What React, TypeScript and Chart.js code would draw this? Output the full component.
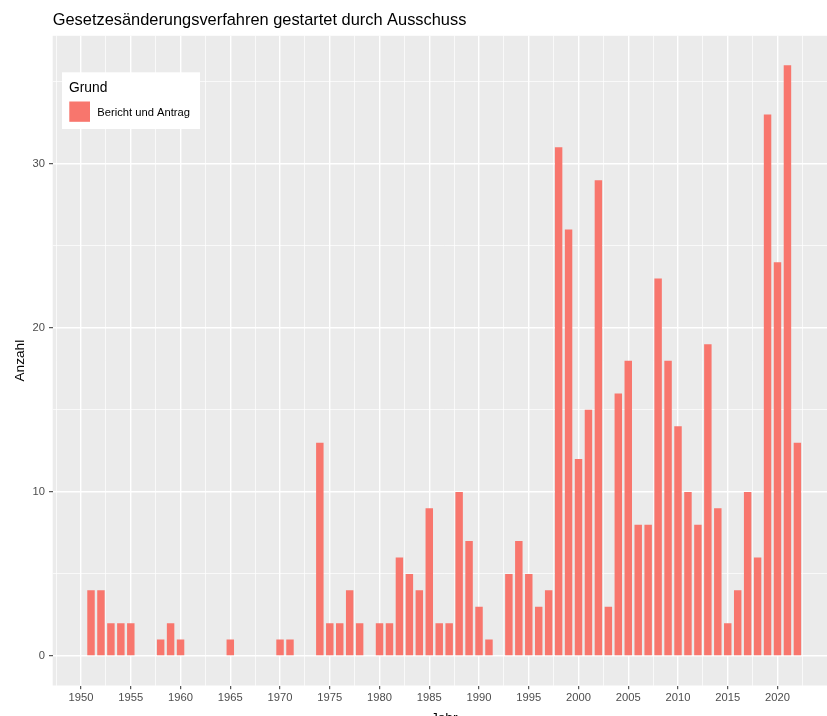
import React, { useEffect, useRef } from "react";
import { Chart, registerables } from "chart.js";

Chart.register(...registerables);

const FONT = '"Liberation Sans", Arial, Helvetica, sans-serif';

const chartTitle = "Gesetzesänderungsverfahren gestartet durch Ausschuss";
const xTitle = "Jahr";
const yTitle = "Anzahl";
const legendTitle = "Grund";
const seriesLabel = "Bericht und Antrag";

const years = [
  1951, 1952, 1953, 1954, 1955, 1958, 1959, 1960, 1965, 1970,
  1971, 1974, 1975, 1976, 1977, 1978, 1980, 1981, 1982, 1983,
  1984, 1985, 1986, 1987, 1988, 1989, 1990, 1991, 1993, 1994,
  1995, 1996, 1997, 1998, 1999, 2000, 2001, 2002, 2003, 2004,
  2005, 2006, 2007, 2008, 2009, 2010, 2011, 2012, 2013, 2014,
  2015, 2016, 2017, 2018, 2019, 2020, 2021, 2022,
];
const counts = [
  4, 4, 2, 2, 2, 1, 2, 1, 1, 1,
  1, 13, 2, 2, 4, 2, 2, 2, 6, 5,
  4, 9, 2, 2, 10, 7, 3, 1, 5, 7,
  5, 3, 4, 31, 26, 12, 15, 29, 3, 16,
  18, 8, 8, 23, 18, 14, 10, 8, 19, 9,
  2, 4, 10, 6, 33, 24, 36, 13,
];

const xGridValues = [
  1947.5, 1950, 1952.5, 1955, 1957.5, 1960, 1962.5, 1965, 1967.5, 1970,
  1972.5, 1975, 1977.5, 1980, 1982.5, 1985, 1987.5, 1990, 1992.5, 1995,
  1997.5, 2000, 2002.5, 2005, 2007.5, 2010, 2012.5, 2015, 2017.5, 2020,
  2022.5,
];
const yGridValues = [0, 5, 10, 15, 20, 25, 30, 35];

const BAR_COLOR = "#F8766D";

const isMajorX = (v: number) => Math.abs(v % 5) < 1e-6;
const isMajorY = (v: number) => Math.abs(v % 10) < 1e-6;

const decorPlugin = {
  id: "ggdecor",
  beforeDraw(chart: any) {
    const { ctx, chartArea } = chart;
    ctx.save();
    ctx.fillStyle = "#EBEBEB";
    ctx.fillRect(chartArea.left, chartArea.top, chartArea.right - chartArea.left, chartArea.bottom - chartArea.top);
    ctx.restore();
  },
  afterDraw(chart: any) {
    const { ctx, chartArea } = chart;
    ctx.save();
    // title
    ctx.fillStyle = "#000000";
    ctx.textAlign = "left";
    ctx.textBaseline = "alphabetic";
    ctx.font = `16.4px ${FONT}`;
    ctx.fillText(chartTitle, chartArea.left, 25);

    // x axis title
    ctx.font = `13.7px ${FONT}`;
    ctx.textAlign = "center";
    ctx.fillText(xTitle, (chartArea.left + chartArea.right) / 2, 721.5);

    // y axis title
    ctx.save();
    ctx.translate(23.5, (chartArea.top + chartArea.bottom) / 2);
    ctx.rotate(-Math.PI / 2);
    ctx.textAlign = "center";
    ctx.fillText(yTitle, 0, 0);
    ctx.restore();

    // legend box
    ctx.fillStyle = "#FFFFFF";
    ctx.fillRect(62, 72.3, 138, 56.7);
    ctx.fillStyle = "#000000";
    ctx.textAlign = "left";
    ctx.font = `13.8px ${FONT}`;
    ctx.fillText(legendTitle, 69, 92);
    ctx.fillStyle = BAR_COLOR;
    ctx.fillRect(69.3, 101.5, 20.7, 20.3);
    ctx.fillStyle = "#000000";
    ctx.font = `11.2px ${FONT}`;
    ctx.fillText(seriesLabel, 97.3, 116);
    ctx.restore();
  },
};

export default function App() {
  const canvasRef = useRef<HTMLCanvasElement | null>(null);

  useEffect(() => {
    const canvas = canvasRef.current;
    if (!canvas) return;
    const chart = new Chart(canvas, {
      type: "bar",
      data: {
        datasets: [
          {
            label: seriesLabel,
            data: years.map((y, i) => ({ x: y, y: counts[i] })),
            backgroundColor: BAR_COLOR,
            borderWidth: 0,
            categoryPercentage: 1,
            barPercentage: 0.75,
          },
        ],
      },
      options: {
        responsive: false,
        animation: false,
        devicePixelRatio: 1,
        layout: { padding: { left: 0, top: 35.8, right: 14.3, bottom: 0 } },
        plugins: {
          legend: { display: false },
          title: { display: false },
          tooltip: { enabled: false },
        },
        scales: {
          x: {
            type: "linear",
            min: 1947.15,
            max: 2025.85,
            offset: false,
            border: { display: false },
            afterBuildTicks: (axis: any) => {
              axis.ticks = xGridValues.map((v) => ({ value: v }));
            },
            afterFit: (axis: any) => {
              axis.height = 54.5;
            },
            grid: {
              offset: false,
              color: "#FFFFFF",
              lineWidth: (c: any) => (isMajorX(c.tick.value) ? 1.4 : 0.7),
              tickColor: (c: any) => (isMajorX(c.tick.value) ? "#333333" : "rgba(0,0,0,0)"),
              tickWidth: 1,
              tickLength: 3.7,
            },
            ticks: {
              autoSkip: false,
              maxRotation: 0,
              minRotation: 0,
              padding: 1.5,
              color: "#4D4D4D",
              font: { family: FONT, size: 11.2 },
              callback: (v: any) => (isMajorX(Number(v)) ? String(v) : ""),
            },
          },
          y: {
            type: "linear",
            min: -1.8,
            max: 37.8,
            border: { display: false },
            afterBuildTicks: (axis: any) => {
              axis.ticks = yGridValues.map((v) => ({ value: v }));
            },
            afterFit: (axis: any) => {
              axis.width = 52.7;
            },
            grid: {
              color: "#FFFFFF",
              lineWidth: (c: any) => (isMajorY(c.tick.value) ? 1.4 : 0.7),
              tickColor: (c: any) => (isMajorY(c.tick.value) ? "#333333" : "rgba(0,0,0,0)"),
              tickWidth: 1,
              tickLength: 3.7,
            },
            ticks: {
              autoSkip: false,
              padding: 4,
              color: "#4D4D4D",
              font: { family: FONT, size: 11.2 },
              callback: (v: any) => (isMajorY(Number(v)) ? String(v) : ""),
            },
          },
        },
      },
      plugins: [decorPlugin],
    } as any);
    return () => chart.destroy();
  }, []);

  return (
    <div
      style={{
        position: "absolute",
        left: 0,
        top: 0,
        width: 827,
        height: 716,
        overflow: "hidden",
        background: "#FFFFFF",
      }}
    >
      <canvas ref={canvasRef} width={850} height={740} style={{ width: 850, height: 740, display: "block" }} />
    </div>
  );
}
